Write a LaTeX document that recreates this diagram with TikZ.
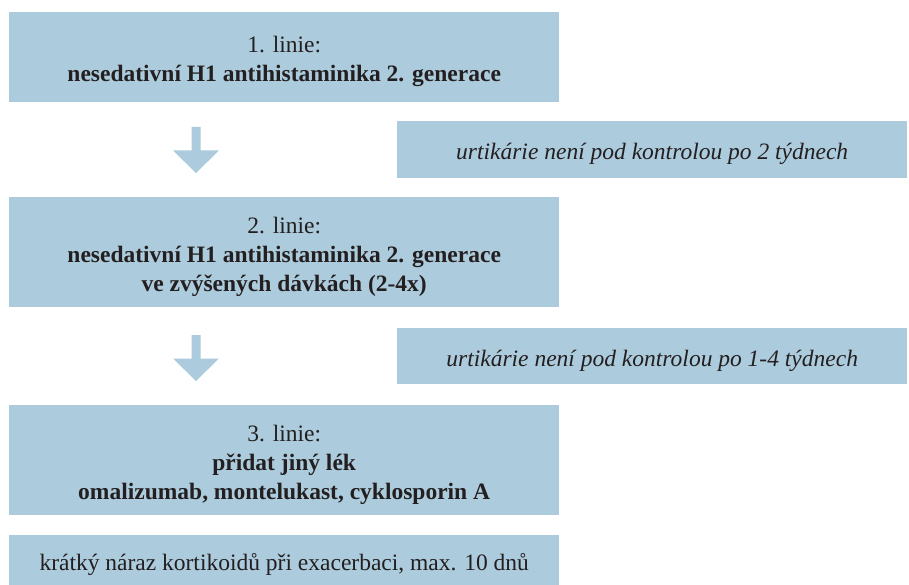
\documentclass[tikz,border=0pt]{standalone}
\usepackage{fontspec}
\setmainfont{Liberation Serif}
\definecolor{boxblue}{RGB}{172,203,220}
\definecolor{txt}{RGB}{35,31,32}
\begin{document}
\begin{tikzpicture}[x=1pt,y=-1pt,
  box/.style={fill=boxblue,draw=none,anchor=north west,inner sep=0pt},
  lbl/.style={inner sep=0pt,align=center,text=txt,font=\fontsize{23.5}{29}\selectfont},
  arrowfill/.style={fill=boxblue,draw=none}]
\useasboundingbox (0,0) rectangle (909,585);
\node[box,minimum width=550pt,minimum height=90pt] (l1) at (9,12) {};
\node[lbl] (l1t) at ([yshift=-4.5pt]l1.center)
  {1. linie:\\\textbf{nesedativní H1 antihistaminika 2. generace}};
\node[box,minimum width=510pt,minimum height=57pt] (c1) at (397,121) {};
\node[lbl] (c1t) at ([yshift=-4.5pt]c1.center)
  {\itshape urtikárie není pod kontrolou po 2 týdnech};
\node[box,minimum width=550pt,minimum height=110pt] (l2) at (9,197) {};
\node[lbl] (l2t) at ([yshift=-4.5pt]l2.center)
  {2. linie:\\\textbf{nesedativní H1 antihistaminika 2. generace}\\\textbf{ve zvýšených dávkách (2-4x)}};
\node[box,minimum width=510pt,minimum height=56pt] (c2) at (397,328) {};
\node[lbl] (c2t) at ([yshift=-4.5pt]c2.center)
  {\itshape urtikárie není pod kontrolou po 1-4 týdnech};
\node[box,minimum width=550pt,minimum height=110pt] (l3) at (9,405) {};
\node[lbl] (l3t) at ([yshift=-4.5pt]l3.center)
  {3. linie:\\\textbf{přidat jiný lék}\\\textbf{omalizumab, montelukast, cyklosporin A}};
\node[box,minimum width=550pt,minimum height=50pt] (k) at (9,535) {};
\node[lbl] (kt) at ([yshift=-4.5pt]k.center)
  {krátký náraz kortikoidů při exacerbaci, max. 10 dnů};
% arrows
\coordinate (a1) at (196,127);
\fill[arrowfill] ([xshift=-4.5pt]a1) -- ([xshift=4.5pt]a1) -- ([xshift=4.5pt,yshift=-23.5pt]a1)
  -- ([xshift=23pt,yshift=-23.5pt]a1) -- ([yshift=-46pt]a1) -- ([xshift=-23pt,yshift=-23.5pt]a1)
  -- ([xshift=-4.5pt,yshift=-23.5pt]a1) -- cycle;
\coordinate (a2) at (196,335);
\fill[arrowfill] ([xshift=-4.5pt]a2) -- ([xshift=4.5pt]a2) -- ([xshift=4.5pt,yshift=-23.5pt]a2)
  -- ([xshift=23pt,yshift=-23.5pt]a2) -- ([yshift=-46pt]a2) -- ([xshift=-23pt,yshift=-23.5pt]a2)
  -- ([xshift=-4.5pt,yshift=-23.5pt]a2) -- cycle;
\end{tikzpicture}
\end{document}
